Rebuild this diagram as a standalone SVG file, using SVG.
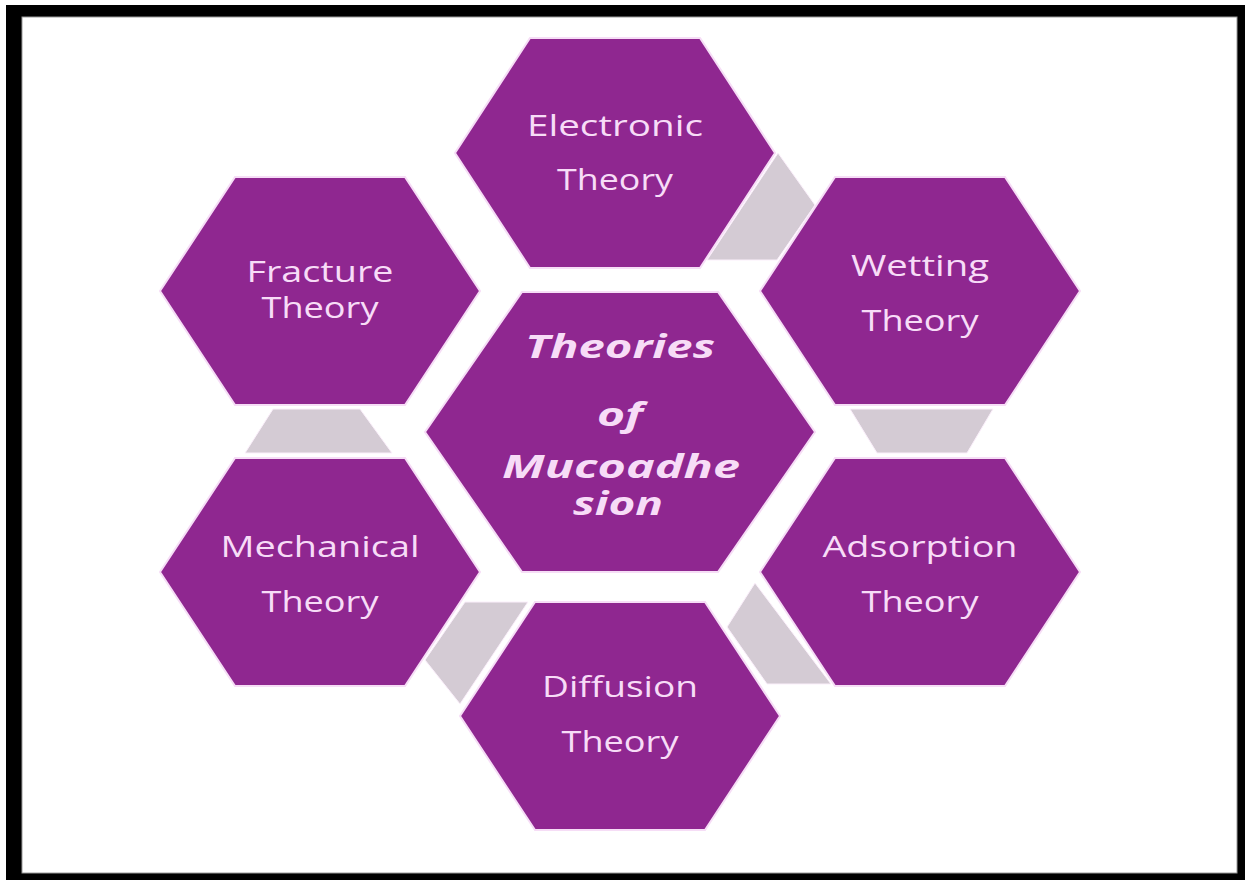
<svg xmlns="http://www.w3.org/2000/svg" width="1245" height="880" viewBox="0 0 1245 880">
<style>
.hex{fill:#8F2790;stroke:#F6DDF6;stroke-width:2}
.con{fill:#D4CBD4;stroke:#FBEFFB;stroke-width:1}
.t{font-family:"Open Sans",sans-serif;font-size:29px;fill:#F7DCF7;text-anchor:middle}
.c{font-family:"Open Sans",sans-serif;font-size:32px;font-weight:bold;font-style:italic;fill:#F7DCF7;text-anchor:middle}
</style>
<rect x="0" y="0" width="1245" height="880" fill="#FFFFFF"/>
<rect x="6" y="5" width="1239" height="875" fill="#000000"/>
<rect x="22" y="17" width="1215" height="856" fill="#FFFFFF" stroke="#9A9A9A" stroke-width="1"/>
<g id="connectors">
<polygon class="con" points="778,153 815,205 777,260 707,260"/>
<polygon class="con" points="273,409 360,409 392,453 245,453"/>
<polygon class="con" points="850,409 993,409 967,453 877,453"/>
<polygon class="con" points="465,602 528,602 460,704 425,660"/>
<polygon class="con" points="755,583 727,627 767,684 831,684"/>
</g>
<g id="electronic">
<polygon class="hex" points="530,38 700,38 775,153 700,268 530,268 455,153"/>
<text class="t" x="615" y="136" textLength="176" lengthAdjust="spacingAndGlyphs">Electronic</text>
<text class="t" x="615" y="190" textLength="116" lengthAdjust="spacingAndGlyphs">Theory</text>
</g>
<g id="fracture">
<polygon class="hex" points="235,177 405,177 480,291 405,405 235,405 160,291"/>
<text class="t" x="320" y="282" textLength="147" lengthAdjust="spacingAndGlyphs">Fracture</text>
<text class="t" x="320" y="318" textLength="117" lengthAdjust="spacingAndGlyphs">Theory</text>
</g>
<g id="wetting">
<polygon class="hex" points="835,177 1005,177 1080,291 1005,405 835,405 760,291"/>
<text class="t" x="920" y="276" textLength="138" lengthAdjust="spacingAndGlyphs">Wetting</text>
<text class="t" x="920" y="331" textLength="117" lengthAdjust="spacingAndGlyphs">Theory</text>
</g>
<g id="mechanical">
<polygon class="hex" points="235,458 405,458 480,572 405,686 235,686 160,572"/>
<text class="t" x="320" y="557" textLength="199" lengthAdjust="spacingAndGlyphs">Mechanical</text>
<text class="t" x="320" y="612" textLength="117" lengthAdjust="spacingAndGlyphs">Theory</text>
</g>
<g id="adsorption">
<polygon class="hex" points="835,458 1005,458 1080,572 1005,686 835,686 760,572"/>
<text class="t" x="920" y="557" textLength="195" lengthAdjust="spacingAndGlyphs">Adsorption</text>
<text class="t" x="920" y="612" textLength="117" lengthAdjust="spacingAndGlyphs">Theory</text>
</g>
<g id="diffusion">
<polygon class="hex" points="535,602 705,602 780,716 705,830 535,830 460,716"/>
<text class="t" x="620" y="697" textLength="156" lengthAdjust="spacingAndGlyphs">Diffusion</text>
<text class="t" x="620" y="752" textLength="117" lengthAdjust="spacingAndGlyphs">Theory</text>
</g>
<g id="center">
<polygon class="hex" points="522,292 718,292 815,432 718,572 522,572 425,432"/>
<text class="c" x="620" y="358" textLength="190" lengthAdjust="spacingAndGlyphs">Theories</text>
<text class="c" x="620" y="426" textLength="46" lengthAdjust="spacingAndGlyphs">of</text>
<text class="c" x="621" y="478" textLength="238" lengthAdjust="spacingAndGlyphs">Mucoadhe</text>
<text class="c" x="618" y="515" textLength="90" lengthAdjust="spacingAndGlyphs">sion</text>
</g>
</svg>
